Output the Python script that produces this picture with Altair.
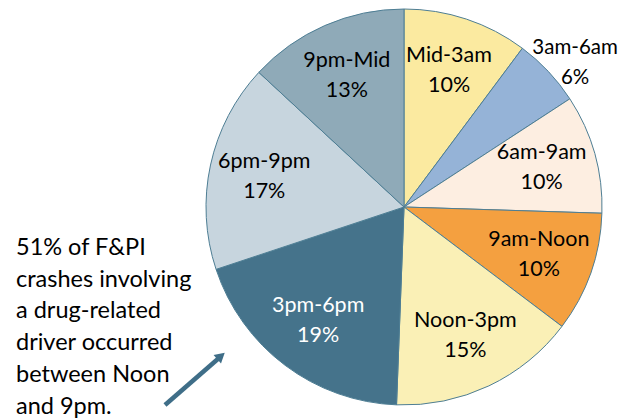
import altair as alt
import pandas as pd

categories = ["Mid-3am", "3am-6am", "6am-9am", "9am-Noon", "Noon-3pm", "3pm-6pm", "6pm-9pm", "9pm-Mid"]
shares = [10.2, 5.6, 9.7, 9.8, 15.3, 19.3, 17.0, 13.1]
labels = ["10%", "6%", "10%", "10%", "15%", "19%", "17%", "13%"]
colors = ["#FBEAA0", "#95B3D7", "#FDEEE1", "#F4A040", "#FAF0B6", "#45738B", "#C7D5DE", "#8FAAB8"]
annotation = ["51% of F&PI", "crashes involving", "a drug-related", "driver occurred", "between Noon", "and 9pm."]

df = pd.DataFrame({
    "cat": categories,
    "share": shares,
    "pct": labels,
    "ord": list(range(len(categories))),
})
df["label"] = df["cat"] + "\n" + df["pct"]

CX, CY, R = 396, 199, 198
FONT = "Lato"
theta_scale = alt.Scale(domain=[0, 100])

pie = alt.Chart(df).mark_arc(outerRadius=R, stroke="#4E7E94", strokeWidth=1).encode(
    theta=alt.Theta("share:Q", stack=True, scale=theta_scale),
    order=alt.Order("ord:Q"),
    color=alt.Color("cat:N", scale=alt.Scale(domain=categories, range=colors), legend=None),
    x=alt.value(CX),
    y=alt.value(CY),
)

text_base = alt.Chart(df).transform_window(
    cum="sum(share)", sort=[alt.SortField("ord")]
).transform_calculate(
    mid="datum.cum - datum.share / 2"
).encode(
    theta=alt.Theta("mid:Q", stack=None, scale=theta_scale),
    text="label:N",
    x=alt.value(CX),
    y=alt.value(CY),
)

inside = text_base.transform_filter(alt.datum.cat != "3am-6am").mark_text(
    radius=143, dy=-15, fontSize=21.5, font=FONT, lineBreak="\n", lineHeight=30, baseline="middle"
).encode(
    color=alt.condition(alt.datum.cat == "3pm-6pm", alt.value("white"), alt.value("black")),
)

outside = text_base.transform_filter(alt.datum.cat == "3am-6am").mark_text(
    radius=232, dx=2, fontSize=20.5, font=FONT, lineBreak="\n", lineHeight=30, baseline="middle", color="black"
)

note = alt.Chart(pd.DataFrame({"t": ["\n".join(annotation)]})).mark_text(
    align="left", baseline="alphabetic", fontSize=23.5, font=FONT, lineBreak="\n", lineHeight=31.7, color="black"
).encode(text="t:N", x=alt.value(8), y=alt.value(247))

arrow_line = alt.Chart(pd.DataFrame({"a": [0]})).mark_rule(color="#3F6E88", strokeWidth=4.5).encode(
    x=alt.value(157), y=alt.value(397), x2=alt.value(211), y2=alt.value(350)
)
arrow_head = alt.Chart(pd.DataFrame({"a": [0]})).mark_point(
    shape="triangle-up", filled=True, color="#3F6E88", size=130, angle=49, opacity=1
).encode(x=alt.value(213), y=alt.value(348))

chart = alt.layer(pie, inside, outside, note, arrow_line, arrow_head).properties(
    width=612, height=410, padding=0, autosize=alt.AutoSizeParams(type="none")
).configure_view(stroke=None)

chart.save("out.html", embed_options={"renderer": "svg", "actions": False})
